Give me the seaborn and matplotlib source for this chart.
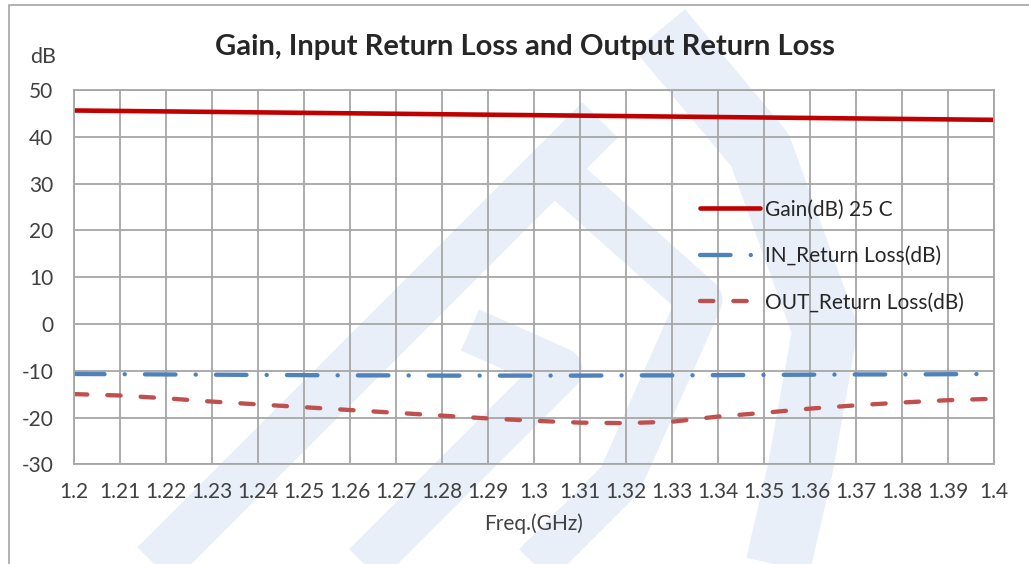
import numpy as np
import pandas as pd
import matplotlib
matplotlib.use("Agg")
import matplotlib.pyplot as plt
import seaborn as sns
from matplotlib.lines import Line2D
from matplotlib.patches import Rectangle

# data
freq = [1.20, 1.21, 1.22, 1.23, 1.24, 1.25, 1.26, 1.27, 1.28, 1.29, 1.30,
        1.31, 1.32, 1.33, 1.34, 1.35, 1.36, 1.37, 1.38, 1.39, 1.40]
gain = [45.6, 45.5, 45.4, 45.3, 45.2, 45.1, 45.0, 44.9, 44.8, 44.7, 44.6,
        44.5, 44.4, 44.3, 44.2, 44.1, 44.0, 43.9, 43.8, 43.7, 43.6]
in_rl = [-10.7, -10.75, -10.8, -10.85, -10.9, -10.95, -11.0, -11.0, -11.05, -11.05, -11.05,
         -11.05, -11.0, -11.0, -10.95, -10.9, -10.85, -10.8, -10.8, -10.75, -10.7]
out_rl = [-15.0, -15.3, -15.9, -16.6, -17.2, -17.8, -18.4, -19.0, -19.6, -20.2, -20.7,
          -21.1, -21.2, -20.9, -19.8, -19.0, -18.1, -17.4, -16.8, -16.3, -16.0]
series_names = ["Gain(dB) 25 C", "IN_Return Loss(dB)", "OUT_Return Loss(dB)"]
x_ticks = [f"{v:g}" for v in freq]
y_ticks = [-30, -20, -10, 0, 10, 20, 30, 40, 50]

sns.set_style("white")
plt.rcParams['font.family'] = ['Lato', 'DejaVu Sans']
plt.rcParams['lines.scale_dashes'] = False
plt.rcParams['axes.unicode_minus'] = False

W, H = 1029, 564
fig = plt.figure(figsize=(W / 100, H / 100), dpi=100)
fig.patch.set_facecolor("white")

# faint logo watermark behind the chart (pixel coords, origin top-left)
wm = "#e8eff8"
def stroke(pts, width_px):
    xs = [p[0] / W for p in pts]
    ys = [1 - p[1] / H for p in pts]
    fig.add_artist(Line2D(xs, ys, transform=fig.transFigure, color=wm,
                          lw=width_px * 0.72, solid_capstyle="butt",
                          solid_joinstyle="round", zorder=0))

stroke([(120, 600), (600, 120)], 50)
stroke([(330, 600), (560, 370), (470, 330)], 45)
stroke([(500, 600), (620, 480), (700, 300), (560, 175)], 45)
stroke([(660, 30), (760, 150), (825, 330), (800, 470), (770, 600)], 65)

# outer chart border
fig.add_artist(Rectangle((9 / W, -0.1), 1.2, 1.1 - 5 / H, transform=fig.transFigure,
                         fill=False, edgecolor="#a6a6a6", lw=1.2, zorder=1))

ax = fig.add_axes([74 / W, 1 - 464.3 / H, 920 / W, 374.4 / H])
ax.set_facecolor("none")
ax.set_zorder(3)

sns.lineplot(x=freq, y=gain, ax=ax, color="#c00000", linewidth=3.3,
             solid_capstyle="round", label=series_names[0])
sns.lineplot(x=freq, y=in_rl, ax=ax, color="#4f81bd", linewidth=3.1,
             linestyle=(0, (22.0, 14.5, 0.1, 14.5)), dash_capstyle="round",
             label=series_names[1])
sns.lineplot(x=freq, y=out_rl, ax=ax, color="#c0504d", linewidth=3.1,
             linestyle=(0, (9.6, 14.4)), dash_capstyle="round",
             label=series_names[2])

ax.set_xlim(1.2, 1.4)
ax.set_ylim(-30, 50)
ax.set_xticks(freq)
ax.set_xticklabels(x_ticks)
ax.set_yticks(y_ticks)
ax.grid(True, color="#a6a6a6", lw=1.3)
ax.set_axisbelow(True)
for s in ax.spines.values():
    s.set_color("#a6a6a6")
    s.set_linewidth(1.3)
ax.tick_params(length=0, labelsize=15, colors="#404040")
ax.tick_params(axis="x", pad=13)
ax.tick_params(axis="y", pad=15)

ax.set_xlabel("Freq.(GHz)", fontsize=15, color="#404040", labelpad=8)
ax.set_ylabel("")
fig.text(43 / W, 1 - 57 / H, "dB", fontsize=15.5, color="#404040", ha="center", va="center")
fig.text(525 / W, 1 - 47 / H, "Gain, Input Return Loss and Output Return Loss",
         fontsize=21, fontweight="bold", color="#262626", ha="center", va="center")

ax.legend(loc="upper left", bbox_to_anchor=(0.680, 0.707), frameon=False,
          fontsize=15, handlelength=2.9, handletextpad=0.25, labelspacing=1.27,
          borderpad=0, borderaxespad=0, labelcolor="#262626")

fig.savefig("out.png", dpi=100)
